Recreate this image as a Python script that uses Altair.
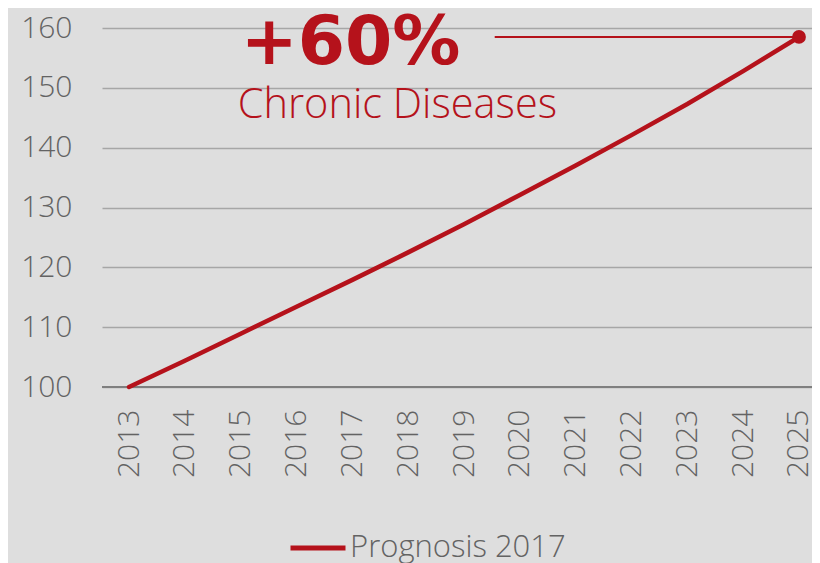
import altair as alt
import pandas as pd

years = [2013, 2014, 2015, 2016, 2017, 2018, 2019, 2020, 2021, 2022, 2023, 2024, 2025]
values = [100, 104.4, 108.9, 113.4, 117.9, 122.5, 127.2, 132.1, 137.0, 142.1, 147.3, 152.8, 158.5]
series_name = "Prognosis 2017"
y_ticks = [100, 110, 120, 130, 140, 150, 160]

ann_text = ["+60%", "Chronic Diseases"]
ann_x = [2015, 2015]
ann_y = [154.0, 145.0]

connector_from = 2019.55

RED = "#B5121B"
GRAY_TXT = "#636363"
FONT = "Open Sans"
BOLD_FONT = "DejaVu Sans"

df = pd.DataFrame({"year": years, "value": values, "series": series_name})
last = df[df["year"] == years[-1]]
conn = pd.DataFrame({"x": [connector_from], "x2": [years[-1]], "y": [values[-1]]})
ann = pd.DataFrame({"text": ann_text, "x": ann_x, "y": ann_y})

xscale = alt.Scale(domain=[2012.516, 2025.233], nice=False, zero=False)
yscale = alt.Scale(domain=[100, 160], nice=False, zero=False)

base = alt.Chart(df)

line = base.mark_line(strokeWidth=4.5, strokeCap="round", color=RED).encode(
    x=alt.X("year:Q", scale=xscale,
            axis=alt.Axis(values=years, format="d", labelAngle=-90, title=None, ticks=False,
                          domain=False, grid=False, labelPadding=22, labelFont=FONT,
                          labelFontSize=30, labelFontWeight=300, labelColor=GRAY_TXT,
                          labelFlush=False, labelOverlap=False, labelBound=False)),
    y=alt.Y("value:Q", scale=yscale,
            axis=alt.Axis(values=y_ticks, title=None, ticks=False, domain=False, grid=True,
                          gridColor="#A6A6A6", gridWidth=1.5, labelPadding=30,
                          labelFont=FONT, labelFontSize=30, labelFontWeight=300,
                          labelColor=GRAY_TXT)),
    color=alt.Color("series:N", scale=alt.Scale(domain=[series_name], range=[RED]),
                    legend=alt.Legend(title=None, orient="none", legendX=186, legendY=490,
                                      symbolType="stroke", symbolStrokeWidth=5,
                                      symbolSize=3025, labelFont=FONT, labelFontSize=31,
                                      labelFontWeight=300, labelLimit=0,
                                      labelColor=GRAY_TXT, labelOffset=2)),
)

baseline = alt.Chart(pd.DataFrame({"y": [y_ticks[0]]})).mark_rule(color="#7F7F7F", strokeWidth=2).encode(
    y=alt.Y("y:Q", scale=yscale)
)

dot = alt.Chart(last).mark_circle(size=190, color=RED, opacity=1).encode(
    x=alt.X("year:Q", scale=xscale), y=alt.Y("value:Q", scale=yscale)
)

connector = alt.Chart(conn).mark_rule(color=RED, strokeWidth=2).encode(
    x=alt.X("x:Q", scale=xscale), x2="x2:Q", y=alt.Y("y:Q", scale=yscale)
)

big = alt.Chart(ann.iloc[[0]]).mark_text(align="left", baseline="alphabetic", font=BOLD_FONT,
                                          fontSize=68, fontWeight="bold", color=RED).encode(
    x=alt.X("x:Q", scale=xscale), y=alt.Y("y:Q", scale=yscale), text="text:N"
)
small = alt.Chart(ann.iloc[[1]]).mark_text(align="left", baseline="alphabetic", font=FONT,
                                            fontSize=41.5, fontWeight=300, dx=-3, color=RED).encode(
    x=alt.X("x:Q", scale=xscale), y=alt.Y("y:Q", scale=yscale), text="text:N"
)

chart = alt.layer(baseline, connector, line, dot, big, small).properties(
    width=710, height=359,
    autosize=alt.AutoSizeParams(type="none"),
    padding={"left": 94, "top": 20, "right": 0, "bottom": 176},
).configure(background="#DEDEDE").configure_view(stroke=None)

chart.save("out.html", embed_options={"renderer": "svg", "actions": False})
